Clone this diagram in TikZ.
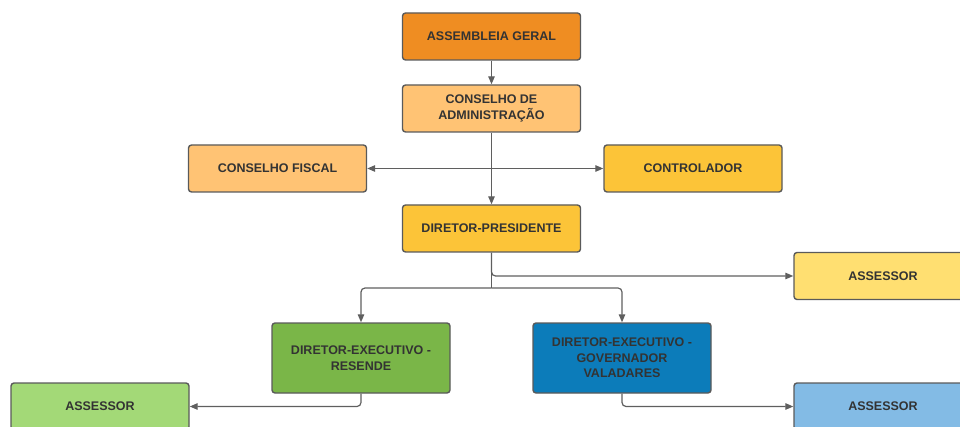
\documentclass[tikz,border=0pt]{standalone}
\usepackage{fontspec}
\setmainfont{Liberation Sans}
\usetikzlibrary{arrows.meta}
\definecolor{cAG}{HTML}{EF8D22}
\definecolor{cCA}{HTML}{FFC374}
\definecolor{cDP}{HTML}{FCC438}
\definecolor{cAY}{HTML}{FFDF71}
\definecolor{cGR}{HTML}{7AB648}
\definecolor{cBL}{HTML}{0C7CBA}
\definecolor{cGL}{HTML}{A3D977}
\definecolor{cBLL}{HTML}{83BBE5}
\definecolor{txt}{HTML}{333333}
\definecolor{edge}{HTML}{5A5A5A}
\definecolor{lin}{HTML}{5F5F5F}
\begin{document}
\begin{tikzpicture}[x=1pt,y=-1pt,
  box/.style={draw=edge, line width=1.4pt, rounded corners=3pt, minimum width=178pt, minimum height=47pt,
    inner sep=2pt, align=center, text=txt, font=\fontsize{12.5}{15.5}\selectfont\bfseries},
  conn/.style={draw=lin, line width=1.2pt, rounded corners=4pt, -{Triangle[length=8pt,width=6.5pt]}},
  plain/.style={draw=lin, line width=1.2pt, rounded corners=4pt}]
\useasboundingbox (0,0) rectangle (960,427);
\node[box, fill=cAG] (ag) at (491.5,36.5) {ASSEMBLEIA GERAL};
\node[box, fill=cCA] (ca) at (491.5,108.5) {CONSELHO DE\\ADMINISTRAÇÃO};
\node[box, fill=cCA] (cf) at (277.5,168.5) {CONSELHO FISCAL};
\node[box, fill=cDP] (ct) at (693,168.5) {CONTROLADOR};
\node[box, fill=cDP] (dp) at (491.5,228.5) {DIRETOR-PRESIDENTE};
\node[box, fill=cAY] (as1) at (883,276) {ASSESSOR};
\node[box, fill=cGR, minimum height=70pt] (der) at (361,358) {DIRETOR-EXECUTIVO -\\RESENDE};
\node[box, fill=cBL, minimum height=70pt] (degv) at (622,358) {DIRETOR-EXECUTIVO -\\GOVERNADOR\\VALADARES};
\node[box, fill=cGL] (as2) at (100,406.5) {ASSESSOR};
\node[box, fill=cBLL] (as3) at (883,406.5) {ASSESSOR};
\coordinate (j1) at (491.5,168.5);
\coordinate (j2) at (491.5,276);
\coordinate (j3) at (491.5,288);
\draw[conn] (ag.south) -- (ca.north);
\draw[conn] (ca.south) -- (dp.north);
\draw[conn] (j1) -- (cf.east);
\draw[conn] (j1) -- (ct.west);
\draw[plain] (dp.south) -- (j3);
\draw[conn] (dp.south) |- (as1.west);
\draw[conn] (j3) -| (der.north);
\draw[conn] (j3) -| (degv.north);
\draw[conn] (der.south) |- (as2.east);
\draw[conn] (degv.south) |- (as3.west);
\end{tikzpicture}
\end{document}
